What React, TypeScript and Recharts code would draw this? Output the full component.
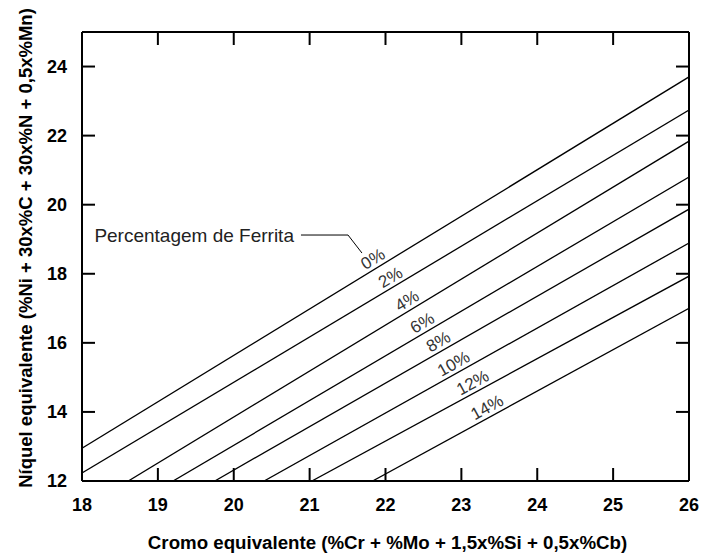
import React from "react";
import {
  LineChart,
  Line,
  XAxis,
  YAxis,
  ReferenceDot,
  ReferenceLine,
} from "recharts";

// Ferrite iso-lines, each a straight segment from start to end
const ferritaPct = ["0%", "2%", "4%", "6%", "8%", "10%", "12%", "14%"];
const creqStart = [18, 18, 18.61, 19.2, 19.75, 20.4, 21.03, 21.83];
const nieqStart = [12.95, 12.23, 12, 12, 12, 12, 12, 12];
const creqEnd = [26, 26, 26, 26, 26, 26, 26, 26];
const nieqEnd = [23.7, 22.74, 21.84, 20.8, 19.87, 18.89, 17.93, 17.0];

// where along each line its percentage label sits (Cr eq)
const labelCreq = [21.9, 22.13, 22.35, 22.55, 22.76, 22.96, 23.21, 23.4];

const xTicks = [18, 19, 20, 21, 22, 23, 24, 25, 26];
const yTicks = [12, 14, 16, 18, 20, 22, 24];

const W = 703;
const H = 555;
// top/right axes are 1px boxes, so the frame is at y=32 and x=689
const M = { top: 31, right: 13, bottom: 0, left: 0 };
const X_AXIS_H = 74;
const Y_AXIS_W = 82;
const PLOT_TOP = M.top + 1;
const PLOT_RIGHT = W - M.right - 1;
const PLOT_W = PLOT_RIGHT - Y_AXIS_W;
const PLOT_H = H - PLOT_TOP - X_AXIS_H;
const X_DOMAIN: [number, number] = [18, 26];
const Y_DOMAIN: [number, number] = [12, 25];
const PX_X = PLOT_W / (X_DOMAIN[1] - X_DOMAIN[0]);
const PX_Y = PLOT_H / (Y_DOMAIN[1] - Y_DOMAIN[0]);
const TICK_LEN = 13;

const FONT = "'Liberation Sans', Arial, Helvetica, sans-serif";
const INK = "#000";

const lines = ferritaPct.map((pct, i) => ({
  pct,
  data: [
    { x: creqStart[i], y: nieqStart[i] },
    { x: creqEnd[i], y: nieqEnd[i] },
  ],
}));

function slopeOf(i: number) {
  return (nieqEnd[i] - nieqStart[i]) / (creqEnd[i] - creqStart[i]);
}

function centerOf(props: any) {
  const vb = props.viewBox || {};
  return {
    cx: (vb.x ?? 0) + (vb.width ?? 0) / 2,
    cy: (vb.y ?? 0) + (vb.height ?? 0) / 2,
  };
}

function pctLabel(text: string, angleDeg: number) {
  return (props: any) => {
    const { cx, cy } = centerOf(props);
    return (
      <g transform={`translate(${cx},${cy}) rotate(${-angleDeg})`}>
        <text
          x={0}
          y={-4}
          textAnchor="middle"
          fontFamily={FONT}
          fontSize={17}
          fill="#333"
        >
          {text}
        </text>
      </g>
    );
  };
}

// x-axis title plus the mirrored inward ticks along the top of the frame
function xAxisDecor(props: any) {
  const vb = props.viewBox;
  const toPx = (v: number) =>
    vb.x + ((v - X_DOMAIN[0]) / (X_DOMAIN[1] - X_DOMAIN[0])) * vb.width;
  return (
    <g>
      {xTicks.slice(1, -1).map((v) => (
        <line
          key={`top-${v}`}
          x1={toPx(v)}
          x2={toPx(v)}
          y1={PLOT_TOP}
          y2={PLOT_TOP + TICK_LEN}
          stroke={INK}
          strokeWidth={2}
        />
      ))}
      <text
        x={vb.x + vb.width / 2 + 2}
        y={H - 6}
        textAnchor="middle"
        fontFamily={FONT}
        fontSize={18.7}
        fontWeight="bold"
        fill={INK}
      >
        Cromo equivalente (%Cr + %Mo + 1,5x%Si + 0,5x%Cb)
      </text>
    </g>
  );
}

// y-axis title plus the mirrored inward ticks along the right of the frame
function yAxisDecor(props: any) {
  const vb = props.viewBox;
  const toPx = (v: number) =>
    vb.y + ((Y_DOMAIN[1] - v) / (Y_DOMAIN[1] - Y_DOMAIN[0])) * vb.height;
  const cx = 25;
  const cy = 248;
  return (
    <g>
      {yTicks.slice(1).map((v) => (
        <line
          key={`right-${v}`}
          x1={PLOT_RIGHT - TICK_LEN}
          x2={PLOT_RIGHT}
          y1={toPx(v)}
          y2={toPx(v)}
          stroke={INK}
          strokeWidth={2}
        />
      ))}
      <text
        x={cx}
        y={cy}
        transform={`rotate(-90, ${cx}, ${cy})`}
        textAnchor="middle"
        dominantBaseline="central"
        fontFamily={FONT}
        fontSize={18.5}
        fontWeight="bold"
        fill={INK}
      >
        Níquel equivalente (%Ni + 30x%C + 30x%N + 0,5x%Mn)
      </text>
    </g>
  );
}

export default function App() {
  const axisStroke = { stroke: INK, strokeWidth: 2 };
  const tickFont = {
    fill: INK,
    fontSize: 18,
    fontWeight: "bold",
    fontFamily: FONT,
  };

  return (
    <div style={{ position: "absolute", left: 0, top: 0, background: "#fff" }}>
      <LineChart width={W} height={H} margin={M}>
        <XAxis
          xAxisId={0}
          dataKey="x"
          type="number"
          domain={X_DOMAIN}
          ticks={xTicks}
          interval={0}
          allowDataOverflow
          height={X_AXIS_H}
          axisLine={axisStroke}
          tickLine={axisStroke}
          tickSize={-TICK_LEN}
          tickMargin={30}
          tick={tickFont}
          label={xAxisDecor}
        />
        <XAxis
          xAxisId="top"
          orientation="top"
          dataKey="x"
          type="number"
          domain={X_DOMAIN}
          ticks={xTicks}
          allowDataOverflow
          height={1}
          axisLine={axisStroke}
          tickLine={false}
          tick={false}
        />
        <YAxis
          yAxisId={0}
          type="number"
          domain={Y_DOMAIN}
          ticks={yTicks}
          interval={0}
          allowDataOverflow
          width={Y_AXIS_W}
          axisLine={axisStroke}
          tickLine={axisStroke}
          tickSize={-TICK_LEN}
          tickMargin={28}
          tick={tickFont}
          label={yAxisDecor}
        />
        <YAxis
          yAxisId="right"
          orientation="right"
          type="number"
          domain={Y_DOMAIN}
          ticks={yTicks}
          allowDataOverflow
          width={1}
          axisLine={axisStroke}
          tickLine={false}
          tick={false}
        />

        {lines.map((l, i) => (
          <Line
            key={l.pct}
            data={l.data}
            dataKey="y"
            // the first line is hung on the top/right axes so they get a series
            xAxisId={i === 0 ? "top" : 0}
            yAxisId={i === 0 ? "right" : 0}
            type="linear"
            stroke={INK}
            strokeWidth={1.3}
            dot={false}
            activeDot={false}
            isAnimationActive={false}
          />
        ))}

        {lines.map((l, i) => {
          const s = slopeOf(i);
          const angle = (Math.atan((s * PX_Y) / PX_X) * 180) / Math.PI;
          const y = nieqStart[i] + s * (labelCreq[i] - creqStart[i]);
          return (
            <ReferenceDot
              key={`lbl-${l.pct}`}
              x={labelCreq[i]}
              y={y}
              r={1}
              fill="none"
              stroke="none"
              ifOverflow="visible"
              label={pctLabel(l.pct, angle)}
            />
          );
        })}

        {/* leader for the "Percentagem de Ferrita" caption */}
        <ReferenceLine
          segment={[
            { x: 20.886, y: 19.122 },
            { x: 21.506, y: 19.122 },
          ]}
          stroke={INK}
          strokeWidth={1}
          ifOverflow="visible"
        />
        <ReferenceLine
          segment={[
            { x: 21.506, y: 19.122 },
            { x: 21.69, y: 18.6 },
          ]}
          stroke={INK}
          strokeWidth={1}
          ifOverflow="visible"
        />
        <ReferenceDot
          x={20.886}
          y={19.122}
          r={1}
          fill="none"
          stroke="none"
          ifOverflow="visible"
          label={(props: any) => {
            const { cx, cy } = centerOf(props);
            return (
              <text
                x={cx - 7}
                y={cy}
                dy="0.36em"
                textAnchor="end"
                fontFamily={FONT}
                fontSize={19}
                fill="#222"
              >
                Percentagem de Ferrita
              </text>
            );
          }}
        />
      </LineChart>
    </div>
  );
}
